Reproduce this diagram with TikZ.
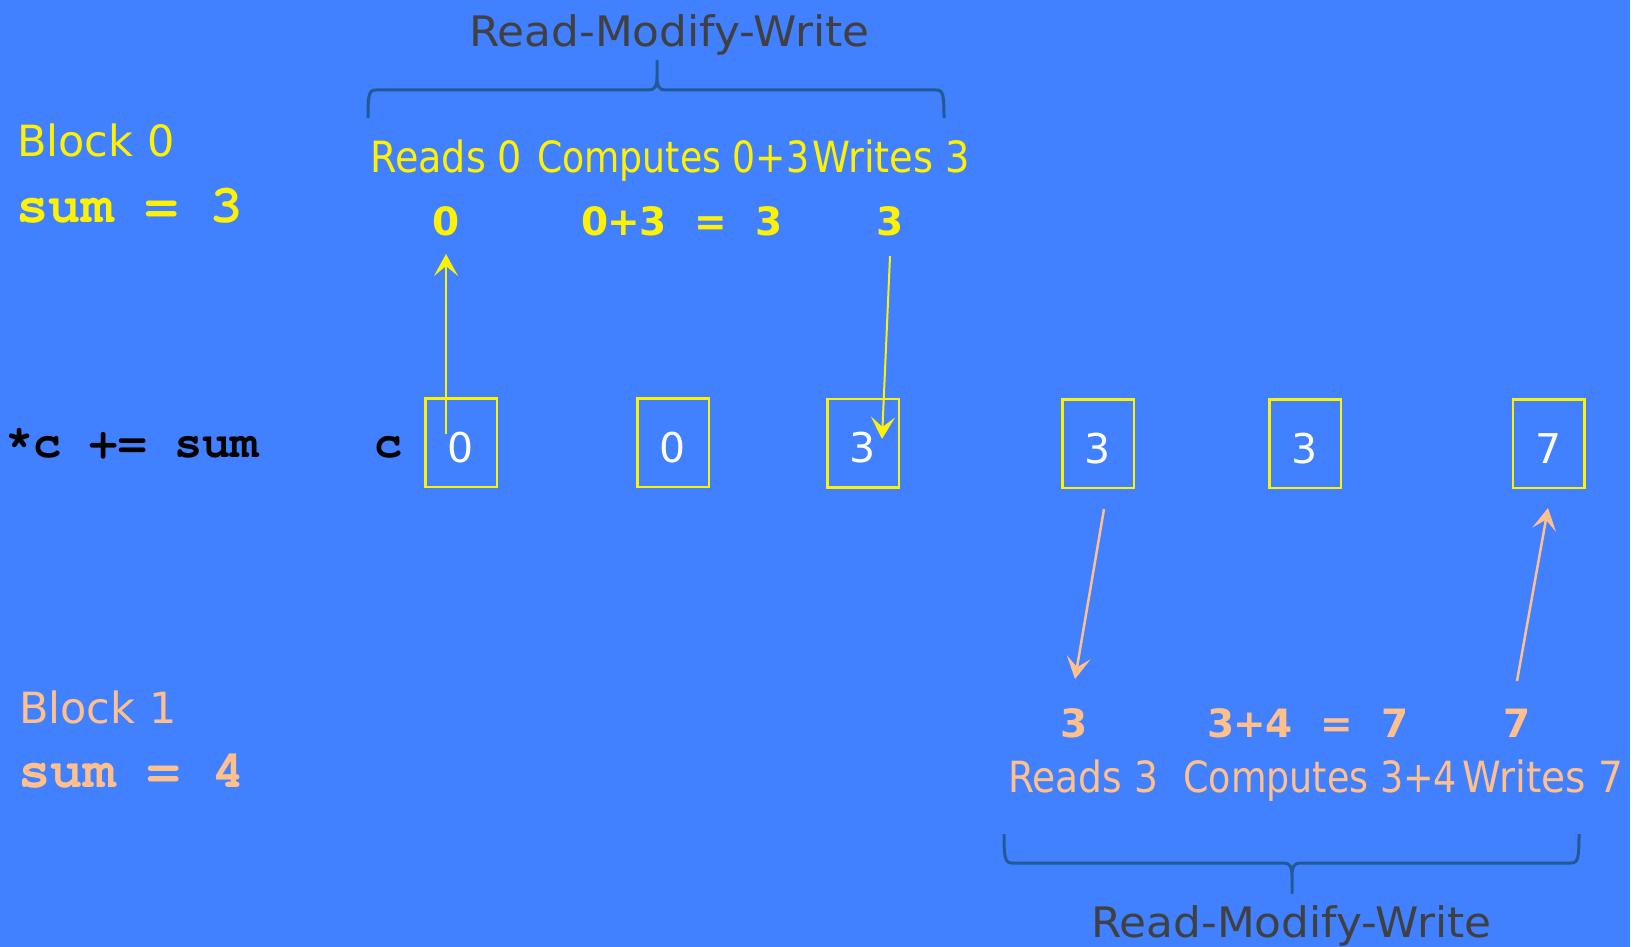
\documentclass[tikz,border=0pt]{standalone}
\usepackage{fontspec}
\usepackage{graphicx}
\setmainfont{DejaVu Sans}
\newfontfamily\cursorfam{TeX Gyre Cursor}
\usetikzlibrary{arrows.meta}

\definecolor{slidebg}{RGB}{65,128,255}
\definecolor{peach}{RGB}{255,192,140}
\definecolor{titlegray}{RGB}{64,64,64}
\definecolor{bracecol}{RGB}{34,90,150}

% bold Courier-like face for code
\newcommand\codefont{\cursorfam\bfseries}
% fixed-width cell for the arithmetic rows
\newcommand\cellw[1]{\makebox[29pt][c]{#1}}
% stretch or squeeze a label to a given width, keeping its height
\newcommand\fitw[2]{\resizebox{#1}{\height}{#2}}

\tikzset{
  lbl/.style={inner sep=0pt, anchor=base west, font=\fontsize{43}{50}\selectfont},
  rmw/.style={inner sep=0pt, anchor=base west, text=titlegray, font=\fontsize{42}{50}\selectfont},
  num/.style={inner sep=0pt, anchor=base, font=\bfseries\fontsize{39}{45}\selectfont},
  code/.style={inner sep=0pt, anchor=base west},
  memcell/.style={draw=yellow, line width=2.5pt, minimum width=71.5pt, minimum height=88.5pt,
    inner sep=0pt, text=white, font=\fontsize{41}{45}\selectfont, text height=39pt, text depth=0pt},
  brace/.style={draw=bracecol, line width=3pt, line join=round},
  ylarrow/.style={draw=yellow, line width=2pt, -{Stealth[length=22pt, width=24pt, inset=10pt]}},
  pcarrow/.style={draw=peach, line width=2.5pt, -{Stealth[length=22pt, width=24pt, inset=10pt]}},
}

\begin{document}
\begin{tikzpicture}[x=1pt, y=-1pt]
\useasboundingbox (0,0) rectangle (1640,947);
\fill[white] (0,0) rectangle (1640,947);
\fill[slidebg] (0,0) rectangle (1630,947);

% ---- Block 0 ----
\node[lbl, text=yellow] (b0) at (17,157) {Block 0};
\node[code, text=yellow, font=\codefont\fontsize{54}{60}\selectfont] (s0) at (16,222) {sum = 3};

\node[rmw] (rmwtop) at (469,47) {\fitw{400pt}{Read-Modify-Write}};
\draw[brace] (368,118) .. controls (368,94) and (369,90) .. (376,90) -- (649,90)
  .. controls (655,90) and (657,86) .. (657,77) -- (657,61) -- (657,77)
  .. controls (657,86) and (659,90) .. (665,90) -- (936,90)
  .. controls (943,90) and (944,94) .. (944,118);

\node[lbl, text=yellow] (rd0) at (370,172) {\fitw{152pt}{Reads 0}};
\node[lbl, text=yellow] (cp0) at (537,172) {\fitw{272pt}{Computes 0+3}};
\node[lbl, text=yellow] (wr0) at (812,172) {\fitw{158pt}{Writes 3}};

\node[num, text=yellow] (v0r) at (446,235) {0};
\node[num, text=yellow, anchor=base west] (v0c) at (580,235)
  {\cellw{0}\cellw{+}\cellw{3}\cellw{}\cellw{=}\cellw{}\cellw{3}};
\node[num, text=yellow] (v0w) at (890,235) {3};

% ---- memory row ----
\node[code, font=\codefont\fontsize{47}{55}\selectfont] (stmt) at (5,457) {*c += sum};
\node[code, anchor=base, font=\codefont\fontsize{47}{55}\selectfont] (cname) at (389,457) {c};

\node[memcell] (m1) at (461,442.5) {0};
\node[memcell] (m2) at (673,442.5) {0};
\node[memcell] (m3) at (863,443) {3};
\node[memcell] (m4) at (1098,443.5) {3};
\node[memcell] (m5) at (1305,443.5) {3};
\node[memcell] (m6) at (1548.5,443.5) {7};

% ---- transfers ----
\coordinate (a1s) at (446,434);
\coordinate (a1e) at (446,254);
\coordinate (a2s) at (890,256);
\coordinate (a2e) at (882,439);
\coordinate (a3s) at (1104,509);
\coordinate (a3e) at (1075,679);
\coordinate (a4s) at (1517,681);
\coordinate (a4e) at (1548,508);
\draw[ylarrow] (a1s) -- (a1e);
\draw[ylarrow] (a2s) -- (a2e);
\draw[pcarrow] (a3s) -- (a3e);
\draw[pcarrow] (a4s) -- (a4e);

% ---- Block 1 ----
\node[lbl, text=peach] (b1) at (19,723) {Block 1};
\node[code, text=peach, font=\codefont\fontsize{54}{60}\selectfont] (s1) at (18,787) {sum = 4};

\node[num, text=peach] (v1r) at (1074,737) {3};
\node[num, text=peach, anchor=base west] (v1c) at (1206,737)
  {\cellw{3}\cellw{+}\cellw{4}\cellw{}\cellw{=}\cellw{}\cellw{7}};
\node[num, text=peach] (v1w) at (1517,737) {7};

\node[lbl, text=peach] (rd1) at (1008,792) {\fitw{150pt}{Reads 3}};
\node[lbl, text=peach] (cp1) at (1183,792) {\fitw{274pt}{Computes 3+4}};
\node[lbl, text=peach] (wr1) at (1462,792) {\fitw{161pt}{Writes 7}};

\draw[brace] (1004,834) .. controls (1004,858) and (1005,863) .. (1012,863) -- (1284,863)
  .. controls (1290,863) and (1292,867) .. (1292,876) -- (1292,893) -- (1292,876)
  .. controls (1292,867) and (1294,863) .. (1300,863) -- (1571,863)
  .. controls (1578,863) and (1579,858) .. (1579,834);
\node[rmw] (rmwbot) at (1091,937) {\fitw{400pt}{Read-Modify-Write}};
\end{tikzpicture}
\end{document}
